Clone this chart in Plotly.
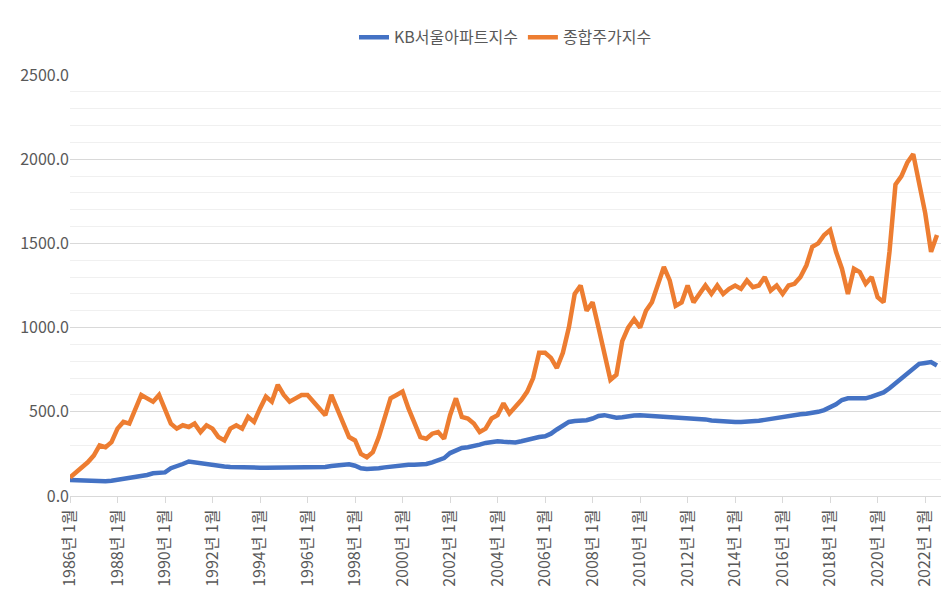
import pandas as pd
import plotly.graph_objects as go

# 분기별 값 (1986년 1분기 ~ 2022년 3분기), 그림에서 읽은 추정치
kospi = [
    110, 140, 170, 200,   240, 300, 290, 320,   400, 440, 430, 520,
    600, 580, 560, 600,   520, 430, 400, 420,   410, 430, 380, 420,
    400, 350, 330, 400,   420, 400, 470, 440,   520, 590, 560, 660,
    600, 560, 580, 600,   600, 560, 520, 480,   600, 520, 440, 350,
    330, 250, 230, 260,   350, 470, 580, 600,   620, 520, 430, 350,
    340, 370, 380, 340,   480, 580, 470, 460,   430, 380, 400, 460,
    480, 550, 490, 530,   570, 620, 700, 850,   850, 820, 760, 850,
    1000, 1200, 1250, 1100,   1150, 1000, 850, 690,   720, 920, 1000, 1050,
    1000, 1100, 1150, 1250,   1360, 1280, 1130, 1150,   1250, 1150, 1200, 1250,
    1200, 1250, 1200, 1230,   1250, 1230, 1280, 1240,   1250, 1300, 1220, 1250,
    1200, 1250, 1260, 1300,   1370, 1480, 1500, 1550,   1580, 1450, 1350, 1200,
    1350, 1330, 1260, 1300,   1180, 1150, 1450, 1850,   1900, 1980, 2030, 1850,
    1680, 1450, 1550,
]
kb_apt = [
    95, 93, 92, 90,   88, 87, 88, 90,   95, 100, 105, 110,
    115, 125, 135, 135,   140, 165, 175, 190,   205, 200, 195, 185,
    180, 178, 175, 172,   170, 170, 170, 168,   168, 168, 168, 168,
    168, 169, 170, 170,   170, 170, 171, 172,   178, 182, 185, 188,
    180, 165, 160, 160,   165, 170, 175, 178,   182, 185, 185, 188,
    190, 200, 215, 225,   255, 270, 285, 290,   295, 305, 315, 320,
    325, 322, 320, 318,   325, 335, 345, 350,   355, 370, 395, 420,
    440, 445, 445, 450,   460, 475, 480, 470,   465, 468, 475, 478,
    480, 478, 475, 472,   472, 470, 470, 468,   467, 465, 460, 455,
    448, 445, 442, 440,   440, 440, 441, 443,   447, 452, 458, 465,
    468, 472, 478, 485,   488, 492, 500, 510,   525, 545, 570, 580,
    580, 578, 580, 590,   605, 615, 640, 670,   700, 730, 760, 785,
    790, 795, 775,
]
dates = pd.date_range("1986-01-01", periods=len(kospi), freq="3MS")
tick_years = list(range(1986, 2023, 2))

fig = go.Figure()
fig.add_trace(go.Scatter(x=dates, y=kb_apt, mode="lines", name="KB서울아파트지수",
                         line=dict(color="#4472C4", width=4.5)))
fig.add_trace(go.Scatter(x=dates, y=kospi, mode="lines", name="종합주가지수",
                         line=dict(color="#ED7D31", width=4.5)))

fig.update_layout(
    width=951, height=602,
    plot_bgcolor="white", paper_bgcolor="white",
    font=dict(family="Noto Sans CJK KR", size=16, color="#595959"),
    margin=dict(l=62, r=18, t=52, b=114),
    legend=dict(orientation="h", x=0.5, xanchor="center", y=1.13, yanchor="top",
                font=dict(size=16)),
    xaxis=dict(
        range=[pd.Timestamp("1986-01-01"), pd.Timestamp("2022-09-01")],
        tickvals=[pd.Timestamp(f"{y}-01-01") for y in tick_years],
        ticktext=[f"{y}년 1월" for y in tick_years],
        tickangle=-90, showgrid=False, showline=True, linecolor="#d9d9d9",
        ticks="outside", tickcolor="#d9d9d9", ticklen=6,
    ),
    yaxis=dict(
        range=[0, 2500], dtick=500, tickformat=".1f", showgrid=True,
        gridcolor="#d9d9d9", zeroline=False,
        minor=dict(dtick=100, showgrid=True, gridcolor="#f0f0f0"),
    ),
)
fig.write_html("out.html")
